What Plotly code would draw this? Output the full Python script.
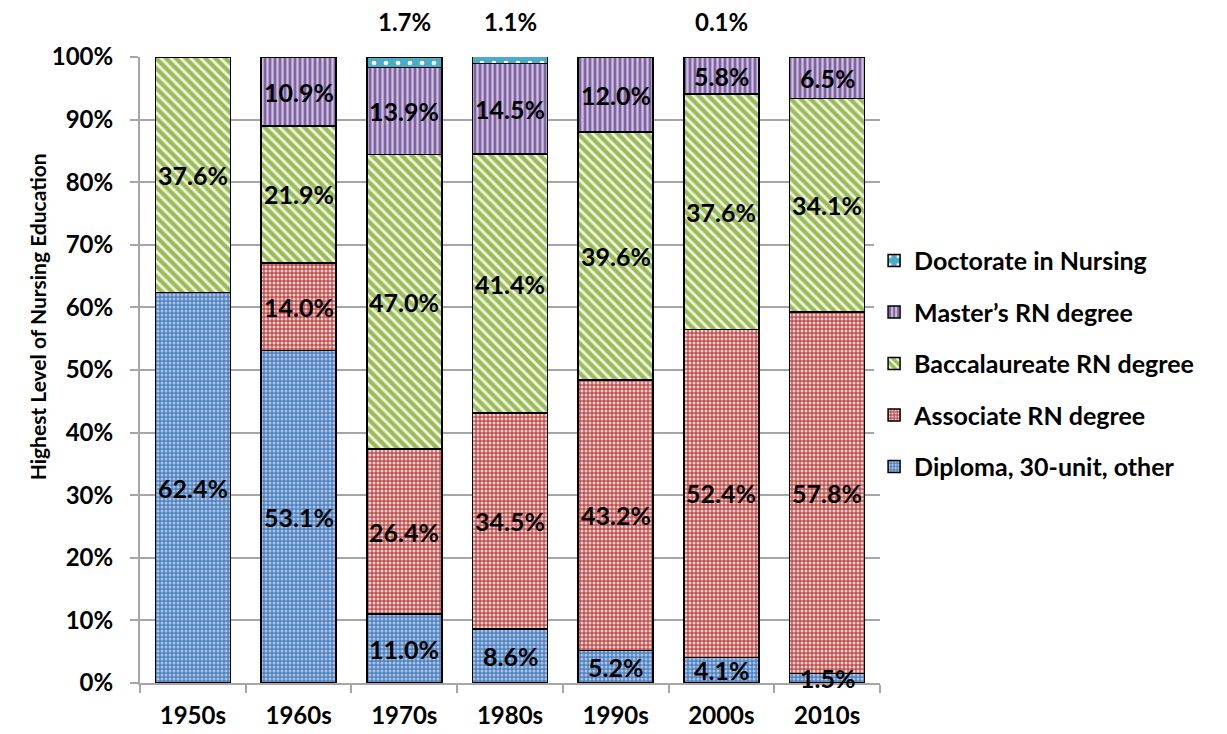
import plotly.graph_objects as go

decades = ["1950s", "1960s", "1970s", "1980s", "1990s", "2000s", "2010s"]
diploma = [62.4, 53.1, 11.0, 8.6, 5.2, 4.1, 1.5]
associate = [0, 14.0, 26.4, 34.5, 43.2, 52.4, 57.8]
baccalaureate = [37.6, 21.9, 47.0, 41.4, 39.6, 37.6, 34.1]
masters = [0, 10.9, 13.9, 14.5, 12.0, 5.8, 6.5]
doctorate = [0, 0, 1.7, 1.1, 0, 0.1, 0]

FONT = "Lato"

series = [
    ("Diploma, 30-unit, other", diploma, "#4F81BD", "#A9C4E8", ".", 4, 0.45, True),
    ("Associate RN degree", associate, "#C0504D", "#F2D0CF", ".", 4, 0.45, True),
    ("Baccalaureate RN degree", baccalaureate, "#9BBB59", "#F0F6E0", "\\", 7, 0.4, True),
    ("Master\u2019s RN degree", masters, "#8064A2", "#CFC2E0", "|", 5, 0.45, True),
    ("Doctorate in Nursing", doctorate, "#4BACC6", "#FFFFFF", ".", 12, 0.12, False),
]

fig = go.Figure()
base = [0.0] * len(decades)
for i, (name, vals, bg, fg, shape, size, sol, showtext) in enumerate(series):
    fig.add_trace(go.Bar(
        x=decades, y=vals, name=name,
        legendgroup=name, legendrank=len(series) - i,
        marker=dict(color=bg, line=dict(color="black", width=1.5),
                    pattern=dict(shape=shape, fgcolor=fg, bgcolor=bg, size=size,
                                 solidity=sol, fillmode="replace")),
        hoverinfo="skip",
    ))
    # segment labels, centred in each segment (drawn on top of all bars)
    for j, (d, v) in enumerate(zip(decades, vals)):
        if showtext and v > 0:
            fig.add_annotation(x=d, y=base[j] + v / 2, xref="x", yref="y",
                               text=f"<b>{v:.1f}%</b>", showarrow=False,
                               font=dict(family=FONT, size=25, color="black"))
        base[j] += v

# Doctorate call-out labels above the bars
for d, v in zip(decades, doctorate):
    if v > 0:
        fig.add_annotation(x=d, y=100, xref="x", yref="y", text=f"<b>{v:.1f}%</b>",
                           showarrow=False, yshift=36,
                           font=dict(family=FONT, size=24, color="black"))
        fig.add_shape(type="line", xref="x", yref="y", x0=d, x1=d,
                      ysizemode="pixel", yanchor=100, y0=1, y1=16,
                      line=dict(color="black", width=1.5))

# y-axis title (sits above centre, as in the reference)
fig.add_annotation(x=-0.158, y=0.585, xref="paper", yref="paper",
                   text="<b>Highest Level of Nursing Education</b>", textangle=-90,
                   showarrow=False, font=dict(family=FONT, size=21, color="black"))

fig.update_layout(
    width=1227, height=734,
    barmode="stack", bargap=0.29,
    plot_bgcolor="white", paper_bgcolor="white",
    margin=dict(l=132, r=355, t=49, b=59),
    font=dict(family=FONT, size=20, color="black"),
    legend=dict(x=0.992, xanchor="left", y=0.51, yanchor="middle",
                traceorder="grouped", tracegroupgap=16,
                font=dict(family=FONT, size=25, color="black", weight="bold")),
    yaxis=dict(range=[0, 100], dtick=10, ticksuffix="%",
               tickfont=dict(family=FONT, size=24, weight="bold"),
               showgrid=True, gridcolor="#A6A6A6", gridwidth=2,
               showline=True, linecolor="#A6A6A6", linewidth=2,
               ticks="outside", ticklen=8, tickcolor="#A6A6A6", tickwidth=2,
               ticklabelstandoff=12, zeroline=False),
    xaxis=dict(tickfont=dict(family=FONT, size=24, weight="bold"),
               showline=True, linecolor="#A6A6A6", linewidth=2,
               ticks="outside", ticklen=8, tickcolor="#A6A6A6", tickwidth=2,
               ticklabelstandoff=10, tickson="boundaries"),
)

fig.write_html("out.html")
